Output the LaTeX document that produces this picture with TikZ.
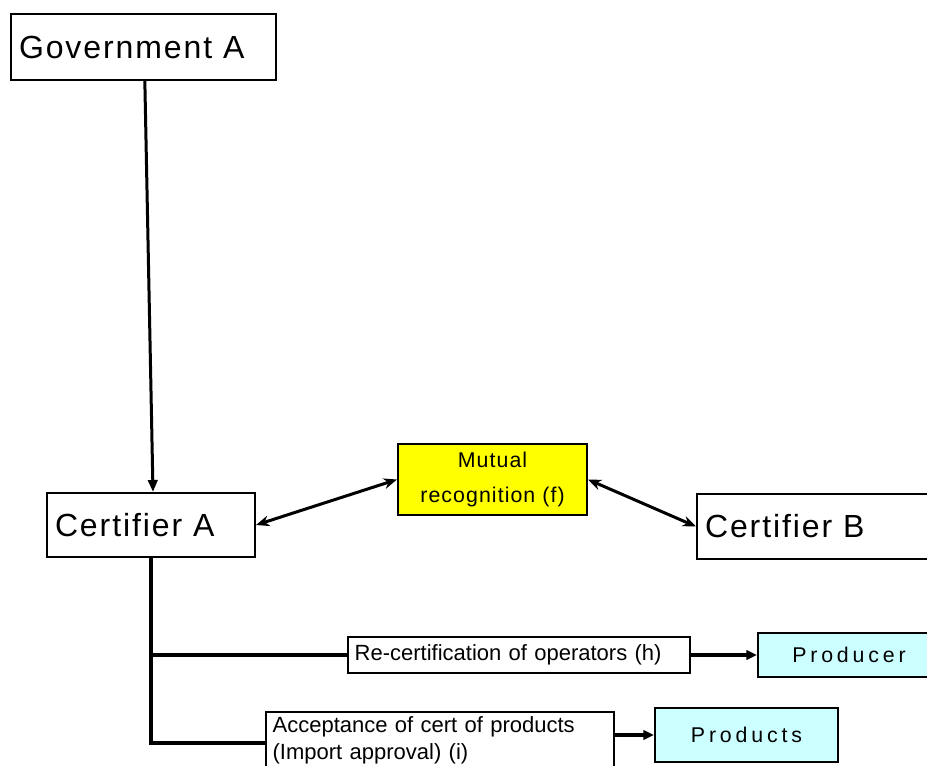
\documentclass[tikz,border=0pt]{standalone}
\usepackage{fontspec}
\setmainfont{Liberation Sans}
\newfontfamily\boxfont{Liberation Sans}[LetterSpace=6]
\newfontfamily\midfont{Liberation Sans}[LetterSpace=5]
\newfontfamily\spacedfont{Liberation Sans}[LetterSpace=18]
\usetikzlibrary{arrows.meta}

\definecolor{recogyellow}{RGB}{255,255,0}
\definecolor{prodcyan}{RGB}{204,255,255}

\tikzset{
	box/.style={draw, line width=1.5pt, inner sep=0pt},
	bigbox/.style={box, align=left, inner xsep=6pt, font=\boxfont\fontsize{24}{28}\selectfont},
	leftbox/.style={box, align=left, inner xsep=5pt, font=\fontsize{16.5}{20}\selectfont},
	recogbox/.style={box, fill=recogyellow, align=center, font=\midfont\fontsize{16}{26}\selectfont},
	prodbox/.style={box, fill=prodcyan, font=\spacedfont\fontsize{16}{18}\selectfont},
	conn/.style={line width=2.25pt},
	trunk/.style={line width=3.5pt},
	feed/.style={line width=3.5pt, -{Triangle[length=8pt,width=7pt]}},
	biarrow/.style={conn, {Stealth[length=10pt,width=8pt]}-{Stealth[length=10pt,width=8pt]}}
}

\begin{document}
\begin{tikzpicture}[x=0.75pt,y=0.75pt,yscale=-1,xscale=1]
	\useasboundingbox (0,0) rectangle (927,765);
	
	%Shape: Rectangle (Government A)
	\node[bigbox, text width=186.75pt, minimum height=49.5pt] (gov) at (143.5,47) {Government A};
	%Shape: Rectangle (Certifier A)
	\node[bigbox, text width=144pt, minimum height=48pt] (certA) at (151,525) {Certifier A};
	%Shape: Rectangle (Mutual recognition)
	\node[recogbox, minimum width=141.75pt, minimum height=53.25pt] (mutual) at (492.5,479.5) {Mutual\\recognition (f)};
	%Shape: Rectangle (Certifier B)
	\node[bigbox, text width=170.25pt, minimum height=48.75pt] (certB) at (818.5,526.5) {Certifier B};
	
	%Shape: Rectangle (Re-certification)
	\node[leftbox, text width=246.5pt, minimum height=27pt] (recert) at (519,655) {Re-certification of operators (h)};
	%Shape: Rectangle (Producer)
	\node[prodbox, minimum width=136.5pt, minimum height=33pt] (producer) at (849,655) {Producer};
	%Shape: Rectangle (Acceptance)
	\node[leftbox, text width=251pt, minimum height=42pt] (accept) at (440,740) {Acceptance of cert of products\\(Import approval) (i)};
	%Shape: Rectangle (Products)
	\node[prodbox, minimum width=137.25pt, minimum height=40.5pt] (products) at (746.5,735) {Products};
	
	%Straight Lines
	\draw[conn, -{Triangle[length=9pt,width=7pt]}] ([xshift=1pt]gov.south) -- ([xshift=1.5pt]certA.north);
	\draw[biarrow] (certA.east) -- (mutual.west);
	\draw[biarrow] (mutual.east) -- (certB.west);
	
	%Branch lines
	\coordinate (lowbranch) at ([yshift=2.25pt]accept.west);
	\draw[trunk] (certA.south) |- (lowbranch);
	\draw[trunk] (certA.south |- recert.west) -- (recert.west);
	
	%Arrows to the right
	\draw[feed] (recert.east) -- (producer.west);
	\draw[feed] (accept.east |- products.west) -- (products.west);
	
\end{tikzpicture}
\end{document}
